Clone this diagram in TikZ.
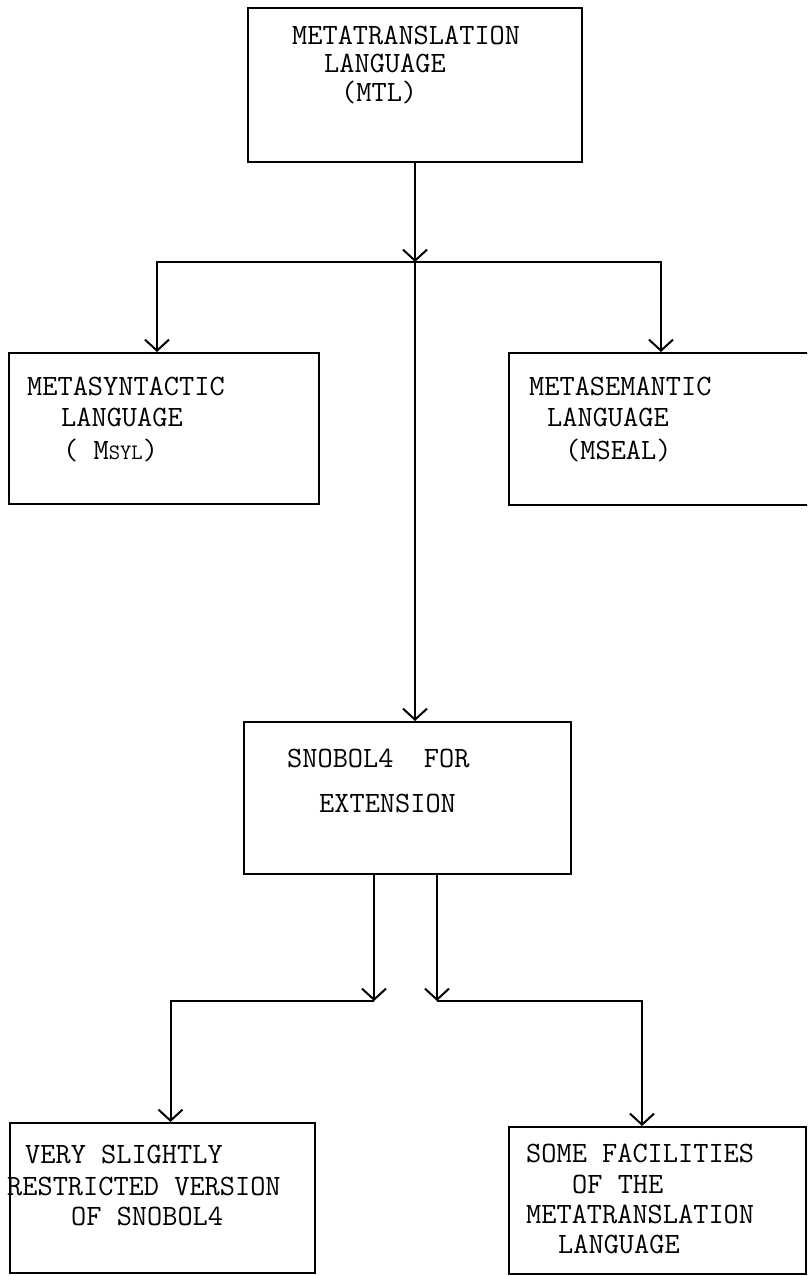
\documentclass[tikz,border=0pt]{standalone}
\usetikzlibrary{arrows.meta}
\begin{document}
\begin{tikzpicture}[x=1pt,y=-1pt,
  box/.style={draw, line width=2pt, inner sep=0pt, anchor=center},
  lbl/.style={anchor=base west, inner sep=0pt,
    font=\ttfamily\fontsize{29.5}{30}\selectfont},
  arr/.style={line width=2pt, -{Straight Barb[length=11pt,width=24pt,line width=2pt]}},
  link/.style={line width=2pt}]
\useasboundingbox (0,0) rectangle (807,1276);
\clip (0,0) rectangle (807,1276);

% boxes
\node[box, minimum width=334pt, minimum height=154pt] (mtl) at (415,85) {};
\node[box, minimum width=310pt, minimum height=151pt] (msyl) at (164,428.5) {};
\node[box, minimum width=321pt, minimum height=152pt] (mseal) at (669.5,429) {};
\node[box, minimum width=327pt, minimum height=152pt] (snobol) at (407.5,798) {};
\node[box, minimum width=305pt, minimum height=150pt] (restricted) at (162.5,1198) {};
\node[box, minimum width=297pt, minimum height=147pt] (facilities) at (657.5,1200.5) {};

% box texts
\node[lbl] (mtl1) at (292,45) {METATRANSLATION};
\node[lbl] (mtl2) at (324,73) {LANGUAGE};
\node[lbl] (mtl3) at (341,102) {(MTL)};

\node[lbl] (msyl1) at (27,395) {METASYNTACTIC};
\node[lbl] (msyl2) at (61,426) {LANGUAGE};
\node[lbl] (msyl3) at (63,459) {( M{\fontsize{22}{22}\selectfont SYL})};

\node[lbl] (mseal1) at (529,395) {METASEMANTIC};
\node[lbl] (mseal2) at (547,426) {LANGUAGE};
\node[lbl] (mseal3) at (565,459) {(MSEAL)};

\node[lbl] (sn1) at (287,767) {SNOBOL4\ \ FOR};
\node[lbl] (sn2) at (319,812) {EXTENSION};

\node[lbl] (rs1) at (25,1163) {VERY SLIGHTLY};
\node[lbl] (rs2) at (7,1195) {RESTRICTED VERSION};
\node[lbl] (rs3) at (71,1225) {OF SNOBOL4};

\node[lbl] (fc1) at (526,1162) {SOME FACILITIES};
\node[lbl] (fc2) at (572,1193) {OF THE};
\node[lbl] (fc3) at (526,1223) {METATRANSLATION};
\node[lbl] (fc4) at (558,1253) {LANGUAGE};

% branch points
\coordinate (j1) at (415,262);
\coordinate (j2) at (374,1001);
\coordinate (j3) at (437,1001);

% connectors
\draw[arr] (mtl.south) -- (j1);
\draw[arr] (j1) -- (j1 |- snobol.north);
\draw[arr] (j1) -| ([xshift=-7pt]msyl.north);
\draw[arr] (j1) -| ([xshift=-8.5pt]mseal.north);

\draw[arr] ([xshift=-33.5pt]snobol.south) -- (j2);
\draw[arr] ([xshift=29.5pt]snobol.south) -- (j3);
\draw[arr] (j2) -| ([xshift=8pt]restricted.north);
\draw[arr] (j3) -| ([xshift=-15.5pt]facilities.north);
\end{tikzpicture}
\end{document}
